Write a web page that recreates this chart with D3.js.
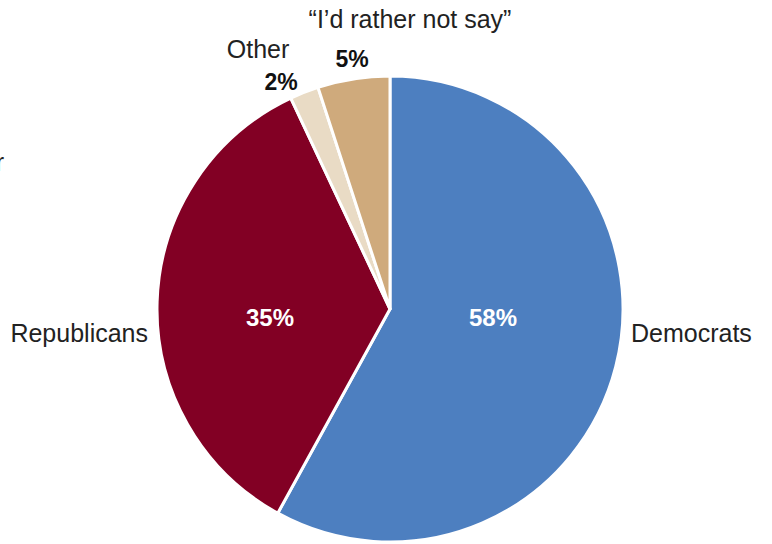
<!DOCTYPE html>
<html>
<head>
<meta charset="utf-8">
<script src="https://cdn.jsdelivr.net/npm/d3@7"></script>
<style>
  html, body { margin: 0; padding: 0; background: #fff; overflow: hidden; }
  svg { display: block; }
  text { font-family: "Liberation Sans", Arial, sans-serif; }
</style>
</head>
<body>
<svg id="chart" width="772" height="544"></svg>
<script>
// Party identification shares, clockwise from 12 o'clock
const parties = ["Democrats", "Republicans", "Other", "\u201CI\u2019d rather not say\u201D"];
const shares = [58, 35, 2, 5];
const colors = ["#4d7fc0", "#820024", "#e9dbc5", "#cfaa7c"];

const svg = d3.select("#chart");
const cx = 390, cy = 309, radius = 233;

const pie = d3.pie().sort(null).value(d => d.value);
const arcs = pie(parties.map((p, i) => ({ name: p, value: shares[i], color: colors[i] })));
const arc = d3.arc().innerRadius(0).outerRadius(radius);

const g = svg.append("g").attr("transform", `translate(${cx},${cy})`);

g.selectAll("path")
  .data(arcs)
  .join("path")
  .attr("d", arc)
  .attr("fill", d => d.data.color)
  .attr("stroke", "#fff")
  .attr("stroke-width", 3)
  .attr("stroke-linejoin", "round");

// Value labels inside the two large slices, level with the pie centre
const innerX = [103, -120];
[0, 1].forEach(i => {
  g.append("text")
    .attr("x", innerX[i])
    .attr("y", 17)
    .attr("text-anchor", "middle")
    .attr("font-size", 24)
    .attr("font-weight", "bold")
    .attr("fill", "#fff")
    .text(shares[i] + "%");
});

// Category labels beside the pie
const labelColor = "#222";
svg.append("text").attr("x", 631).attr("y", 342)
  .attr("font-size", 25).attr("fill", labelColor).text(parties[0]);
svg.append("text").attr("x", 148).attr("y", 342).attr("text-anchor", "end")
  .attr("font-size", 25).attr("fill", labelColor).text(parties[1]);
svg.append("text").attr("x", 258).attr("y", 58).attr("text-anchor", "middle")
  .attr("font-size", 25).attr("fill", labelColor).text(parties[2]);
svg.append("text").attr("x", 410).attr("y", 28).attr("text-anchor", "middle")
  .attr("font-size", 25).attr("fill", labelColor).text(parties[3]);

// Value labels for the two small slices, outside the pie
svg.append("text").attr("x", 281).attr("y", 90).attr("text-anchor", "middle")
  .attr("font-size", 23).attr("font-weight", "bold").attr("fill", "#111").text(shares[2] + "%");
svg.append("text").attr("x", 352).attr("y", 67).attr("text-anchor", "middle")
  .attr("font-size", 23).attr("font-weight", "bold").attr("fill", "#111").text(shares[3] + "%");

// Edge of a neighbouring caption running off the left side
svg.append("text").attr("x", 4).attr("y", 171).attr("text-anchor", "end")
  .attr("font-size", 25).attr("fill", labelColor).text("r");
</script>
</body>
</html>
